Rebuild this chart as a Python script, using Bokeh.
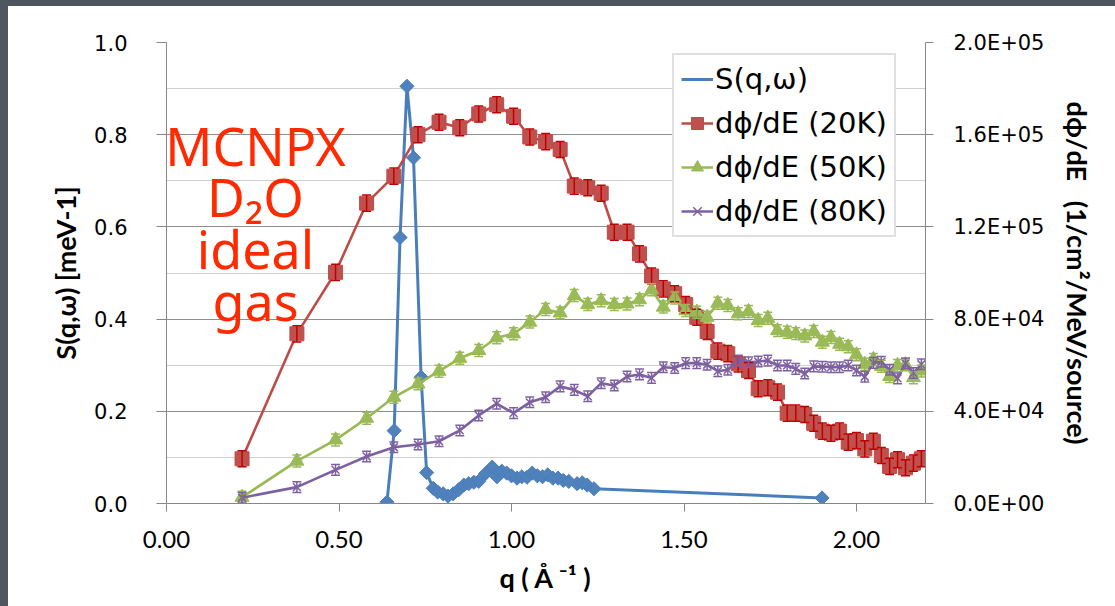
from bokeh.plotting import figure
from bokeh.models import (Range1d, LinearAxis, FixedTicker, ColumnDataSource,
                          Whisker, Legend, LegendItem, Label, TeeHead)
from bokeh.embed import file_html
from bokeh.resources import INLINE
import math

# ---------------- data ----------------
q_sqw = [0.639, 0.660, 0.677, 0.697, 0.716, 0.738, 0.754, 0.773, 0.786, 0.802,
         0.816, 0.831, 0.847, 0.862, 0.876, 0.891, 0.905, 0.925, 0.944, 0.958,
         0.972, 0.986, 1.000, 1.016, 1.030, 1.045, 1.060, 1.075, 1.090, 1.105,
         1.120, 1.135, 1.150, 1.166, 1.190, 1.205, 1.219, 1.239, 1.900]
s_sqw = [0.003, 0.158, 0.577, 0.905, 0.750, 0.274, 0.067, 0.033, 0.025, 0.021,
         0.016, 0.021, 0.030, 0.040, 0.043, 0.046, 0.048, 0.065, 0.079, 0.058,
         0.070, 0.066, 0.060, 0.055, 0.058, 0.057, 0.066, 0.060, 0.058, 0.062,
         0.055, 0.055, 0.050, 0.048, 0.043, 0.045, 0.040, 0.032, 0.012]

q_flux = [0.219, 0.378, 0.490, 0.580, 0.659, 0.729, 0.790, 0.850, 0.905, 0.957,
          1.006, 1.053, 1.099, 1.141, 1.182, 1.221, 1.260, 1.298, 1.335, 1.371,
          1.406, 1.440, 1.473, 1.505, 1.537, 1.567, 1.598, 1.627, 1.657, 1.687,
          1.715, 1.743, 1.771, 1.799, 1.824, 1.850, 1.876, 1.901, 1.926, 1.951,
          1.976, 2.000, 2.024, 2.049, 2.072, 2.096, 2.119, 2.142, 2.165, 2.188]
flux_20K = [19400, 73600, 100300, 130300, 142000, 160000, 165400, 163000, 169000, 173000,
            168000, 159000, 157000, 153600, 137700, 137000, 134600, 117700, 117700, 108300,
            98700, 93100, 91000, 86300, 80800, 74600, 66100, 65000, 60600, 57700,
            49800, 50200, 48300, 39200, 39200, 38600, 34800, 31400, 30500, 31400,
            26600, 27300, 23700, 27000, 20800, 16100, 19000, 15500, 17500, 19400]
flux_50K = [2700, 18400, 27600, 37000, 46100, 51900, 57400, 63000, 66400, 71900,
            73600, 78700, 84200, 82700, 90200, 86300, 88000, 86300, 86600, 88400,
            92700, 85200, 89200, 83700, 83000, 80800, 86900, 85900, 82300, 83300,
            79400, 80400, 75000, 74300, 73700, 72700, 74600, 70000, 72000, 69100,
            68000, 64500, 60400, 62500, 59500, 55100, 59900, 60200, 54600, 57500]
flux_80K = [2500, 7100, 14600, 20400, 24400, 25600, 27000, 31700, 38200, 43300,
            39200, 43900, 46100, 50800, 49300, 46500, 52200, 51200, 55100, 56000,
            54500, 59100, 58800, 60900, 60900, 60200, 57400, 58000, 62000, 61300,
            61600, 62000, 59900, 59900, 58400, 56400, 59500, 59300, 59100, 59100,
            59900, 57700, 55000, 61000, 61500, 58000, 54300, 60800, 56600, 60400]
err_20K = 3500
err_50K = 2600
err_80K = 2300

series_names = ["S(q,\u03c9)", "d\u03d5/dE (20K)", "d\u03d5/dE (50K)", "d\u03d5/dE (80K)"]
left_ticks = [0.0, 0.2, 0.4, 0.6, 0.8, 1.0]
left_minor = [0.1, 0.3, 0.5, 0.7, 0.9]
left_tick_labels = ["0.0", "0.2", "0.4", "0.6", "0.8", "1.0"]
right_ticks = [0, 40000, 80000, 120000, 160000, 200000]
right_tick_labels = ["0.0E+00", "4.0E+04", "8.0E+04", "1.2E+05", "1.6E+05", "2.0E+05"]
x_ticks = [0.0, 0.5, 1.0, 1.5, 2.0]
x_tick_labels = ["0.00", "0.50", "1.00", "1.50", "2.00"]
note_lines = ["MCNPX", "D\u2082O", "ideal", "gas"]
x_title = "q ( \u00c5 \u207b\u00b9 )"
y_title = "S(q,\u03c9) [meV-1]"
y2_title = "d\u03d5/dE\u00a0\u00a0\u00a0(1/cm\u00b2/MeV/source)"

# ---------------- figure ----------------
p = figure(width=1107, height=600,
           min_border_left=158, min_border_right=190,
           min_border_top=36, min_border_bottom=103,
           x_range=Range1d(0, 2.2), y_range=Range1d(0, 1.0),
           output_backend="svg", toolbar_location=None)
p.extra_y_ranges = {"flux": Range1d(0, 200000)}
p.outline_line_color = None
p.background_fill_color = "white"
p.border_fill_color = "white"

AX = "#868686"
p.xgrid.grid_line_color = None
p.ygrid.ticker = FixedTicker(ticks=left_ticks, minor_ticks=left_minor)
p.ygrid.grid_line_color = "#8e8e8e"
p.ygrid.grid_line_width = 1
p.ygrid.minor_grid_line_color = "#cfcfcf"
p.ygrid.minor_grid_line_width = 1

xa = p.xaxis[0]
xa.ticker = FixedTicker(ticks=x_ticks)
xa.major_label_overrides = dict(zip(x_ticks, x_tick_labels))
xa.axis_line_color = AX
xa.major_tick_line_color = AX
xa.major_tick_out = 8
xa.major_tick_in = 0
xa.minor_tick_out = 0
xa.minor_tick_in = 0
xa.major_label_text_font = "Lato"
xa.major_label_text_font_size = "24px"
xa.major_label_text_color = "black"
xa.major_label_standoff = 19
xa.axis_label = x_title
xa.axis_label_text_font = "Lato"
xa.axis_label_text_font_style = "bold"
xa.axis_label_text_font_size = "27px"
xa.axis_label_text_color = "black"
xa.axis_label_standoff = 10

ya = p.yaxis[0]
ya.ticker = FixedTicker(ticks=left_ticks)
ya.major_label_overrides = dict(zip(left_ticks, left_tick_labels))
ya.axis_line_color = AX
ya.major_tick_line_color = AX
ya.major_tick_out = 10
ya.major_tick_in = 0
ya.minor_tick_out = 0
ya.minor_tick_in = 0
ya.major_label_text_font = "DejaVu Sans"
ya.major_label_text_font_size = "21px"
ya.major_label_text_color = "black"
ya.major_label_standoff = 29
ya.axis_label = y_title
ya.axis_label_text_font = "Lato"
ya.axis_label_text_font_style = "bold"
ya.axis_label_text_font_size = "27px"
ya.axis_label_text_color = "black"
ya.axis_label_standoff = 9

ra = LinearAxis(y_range_name="flux", ticker=FixedTicker(ticks=right_ticks))
ra.major_label_overrides = dict(zip(right_ticks, right_tick_labels))
ra.axis_line_color = AX
ra.major_tick_line_color = AX
ra.major_tick_out = 8
ra.major_tick_in = 0
ra.minor_tick_out = 0
ra.minor_tick_in = 0
ra.major_label_text_font = "DejaVu Sans"
ra.major_label_text_font_size = "21px"
ra.major_label_text_color = "black"
ra.major_label_standoff = 20
ra.axis_label = y2_title
ra.axis_label_text_font = "Lato"
ra.axis_label_text_font_style = "bold"
ra.axis_label_text_font_size = "27px"
ra.axis_label_text_color = "black"
ra.axis_label_standoff = 14
p.add_layout(ra, "right")

# ---------------- series ----------------
BLUE_L, BLUE_F = "#4a7ebb", "#4f81bd"
RED_L, RED_F = "#be4b48", "#c0504d"
GRN_L, GRN_F = "#98b954", "#9bbb59"
PUR_L, PUR_F = "#7d60a0", "#8064a2"

# S(q,w)
r_bl = p.line(q_sqw, s_sqw, line_color=BLUE_L, line_width=3)
r_bm = p.scatter(q_sqw, s_sqw, marker="square", angle=math.pi / 4, size=10,
                 fill_color=BLUE_F, line_color=BLUE_L)
r_bleg = p.scatter([], [], marker="diamond", size=15,
                   fill_color=BLUE_F, line_color=BLUE_L)

def add_flux(vals, err, lc, fc, ecol, marker, msize, mlw):
    src = ColumnDataSource(dict(q=q_flux, v=vals,
                                up=[v + err for v in vals],
                                lo=[v - err for v in vals]))
    w = Whisker(source=src, base="q", upper="up", lower="lo",
                y_range_name="flux", line_color=ecol, line_width=1.5,
                upper_head=TeeHead(size=9, line_color=ecol, line_width=1.5),
                lower_head=TeeHead(size=9, line_color=ecol, line_width=1.5),
                level="glyph")
    p.add_layout(w)
    rl = p.line("q", "v", source=src, y_range_name="flux",
                line_color=lc, line_width=2.6)
    rm = p.scatter("q", "v", source=src, y_range_name="flux", marker=marker,
                   size=msize, fill_color=fc, line_color=lc, line_width=mlw)
    return rl, rm

r_rl, r_rm = add_flux(flux_20K, err_20K, RED_L, RED_F, "#c00000", "square", 14, 1)
r_gl, r_gm = add_flux(flux_50K, err_50K, GRN_L, GRN_F, GRN_L, "triangle", 14, 1)
r_pl, r_pm = add_flux(flux_80K, err_80K, PUR_L, PUR_F, PUR_L, "x", 11, 1.5)

legend = Legend(items=[
    LegendItem(label=series_names[0], renderers=[r_bl, r_bleg]),
    LegendItem(label=series_names[1], renderers=[r_rl, r_rm]),
    LegendItem(label=series_names[2], renderers=[r_gl, r_gm]),
    LegendItem(label=series_names[3], renderers=[r_pl, r_pm]),
], location=(506, 266))
legend.margin = 0
legend.padding = 7
legend.spacing = 10
legend.glyph_width = 32
legend.glyph_height = 30
legend.label_height = 30
legend.label_standoff = 2
legend.label_text_font = "DejaVu Sans"
legend.label_text_font_size = "29px"
legend.label_text_color = "black"
legend.border_line_color = "#bfbfbf"
legend.border_line_width = 2
legend.background_fill_color = "white"
legend.background_fill_alpha = 1
p.add_layout(legend, "center")

# hand-written note
note_x = 0.258
note_y = [0.777, 0.666, 0.553, 0.440]
for txt, yy in zip(note_lines, note_y):
    p.add_layout(Label(x=note_x, y=yy, text=txt, text_align="center",
                       text_baseline="alphabetic", text_font="Noto Sans",
                       text_font_size="52px", text_color="#ff2a00"))

html = file_html(p, INLINE)
css = ("<style>html{margin:0;background:#ffffff;overflow:hidden;}"
       "body{margin:0;padding:0;background:#ffffff;"
       "border-top:6px solid #50565f;border-left:8px solid #50565f;}</style>")
html = html.replace("</head>", css + "</head>", 1)
open("out.html", "w").write(html)
